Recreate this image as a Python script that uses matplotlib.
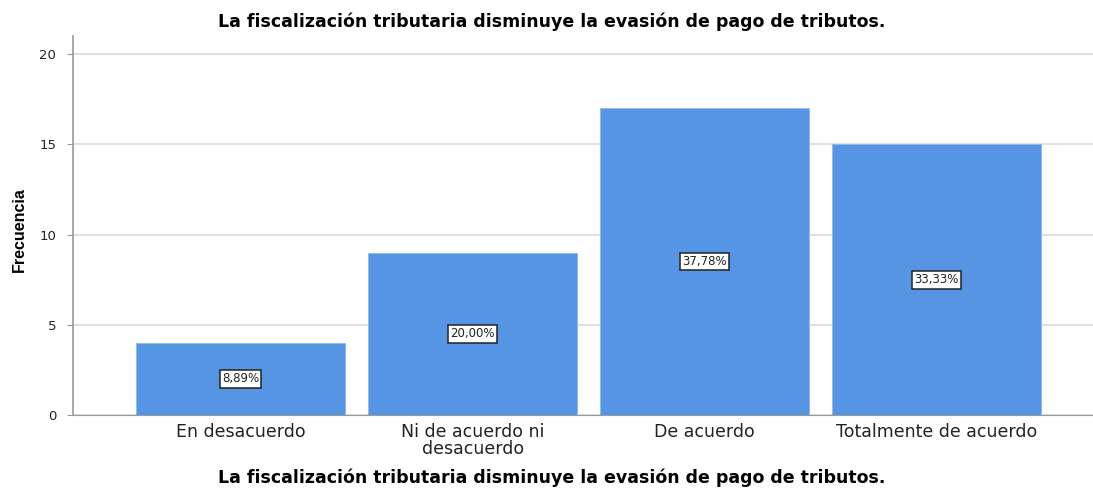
import matplotlib

matplotlib.use('Agg')
from matplotlib import pyplot as plt

# Data
categories = ["En desacuerdo", "Ni de acuerdo ni\ndesacuerdo", "De acuerdo", "Totalmente de acuerdo"]
counts = [4, 9, 17, 15]
percent_labels = ["8,89%", "20,00%", "37,78%", "33,33%"]
yticks = [0, 5, 10, 15, 20]

title = "La fiscalización tributaria disminuye la evasión de pago de tributos."

plt.rcParams['font.family'] = ['DejaVu Sans']

fig = plt.figure(figsize=(10.93, 4.88), dpi=100)
ax = fig.add_axes([0.0668, 0.1496, 0.94, 0.7765])

x = list(range(len(categories)))
ax.bar(x, counts, width=0.9, color="#5595E3", edgecolor="#8db8ee", linewidth=0.6, zorder=2)

# percentage labels in boxes, placed at half bar height
for xi, c, lab in zip(x, counts, percent_labels):
    ax.text(xi, c / 2, lab, ha="center", va="center", fontsize=8.5, color="#222222", zorder=3,
            bbox=dict(boxstyle="square,pad=0.2", facecolor="white", edgecolor="#222222", linewidth=1.1))

ax.set_xlim(-0.722, 3.705)
ax.set_ylim(0, 21)
ax.set_yticks(yticks)
ax.set_yticklabels([str(t) for t in yticks], fontsize=9.5, color="#222222")
ax.set_xticks(x)
ax.set_xticklabels(categories, fontsize=12.5, color="#222222", linespacing=0.9)
ax.tick_params(axis="x", length=0, pad=6)
ax.tick_params(axis="y", length=4, color="#999999", pad=8)

ax.grid(axis="y", color="#d9d9d9", linewidth=1.2, zorder=0)
ax.set_axisbelow(True)

for side in ["top", "right"]:
    ax.spines[side].set_visible(False)
ax.spines["left"].set_color("#999999")
ax.spines["bottom"].set_color("#999999")
ax.spines["left"].set_linewidth(1.2)

fig.text(0.505, 0.955, title, ha="center", va="center", fontsize=12.5, fontweight="bold")
fig.text(0.505, 0.02, title, ha="center", va="center", fontsize=12.5, fontweight="bold")
fig.text(0.018, 0.53, "Frecuencia", ha="center", va="center", rotation=90,
         fontsize=11.5, fontweight="bold", family=["Liberation Sans Narrow", "Liberation Sans", "DejaVu Sans"])

plt.savefig("out.png", dpi=100)
plt.close()
